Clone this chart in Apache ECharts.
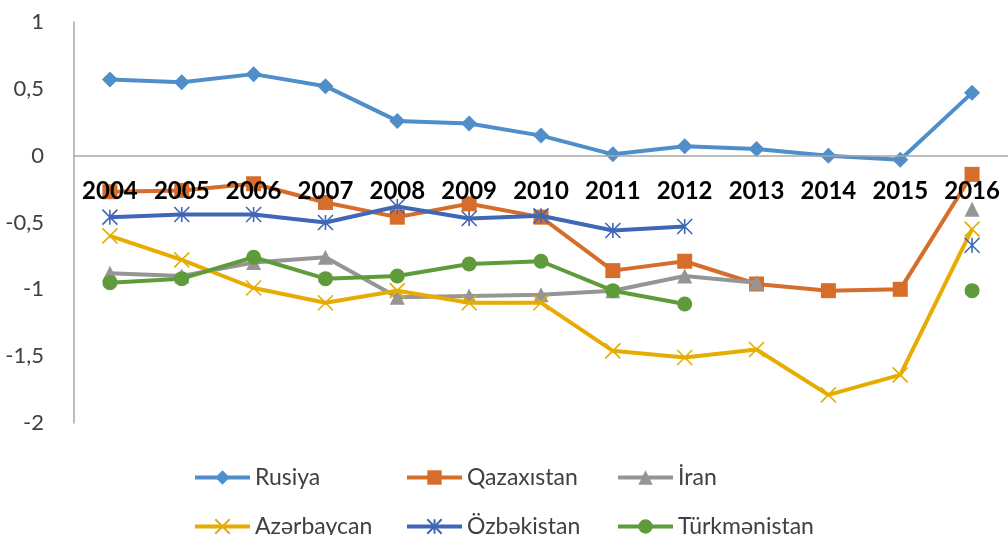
<!DOCTYPE html>
<html>
<head>
<meta charset="utf-8">
<script src="https://cdn.jsdelivr.net/npm/echarts@6/dist/echarts.min.js"></script>
<style>
  html, body { margin: 0; padding: 0; background: #fff; }
  #chart { width: 1008px; height: 535px; }
</style>
</head>
<body>
<div id="chart"></div>
<script>
var years = ['2004', '2005', '2006', '2007', '2008', '2009', '2010', '2011', '2012', '2013', '2014', '2015', '2016'];
var yTicks = [-2, -1.5, -1, -0.5, 0, 0.5, 1];

var rusiya       = [0.57, 0.55, 0.61, 0.52, 0.26, 0.24, 0.15, 0.01, 0.07, 0.05, 0.00, -0.03, 0.47];
var qazaxistan   = [-0.27, -0.26, -0.21, -0.35, -0.46, -0.36, -0.46, -0.86, -0.79, -0.96, -1.01, -1.00, -0.14];
var iran         = [-0.88, -0.90, -0.80, -0.76, -1.06, -1.05, -1.04, -1.01, -0.90, -0.95, null, null, -0.40];
var azerbaycan   = [-0.60, -0.78, -0.99, -1.10, -1.01, -1.10, -1.10, -1.46, -1.51, -1.45, -1.79, -1.64, -0.55];
var ozbekistan   = [-0.46, -0.44, -0.44, -0.50, -0.38, -0.47, -0.45, -0.56, -0.53, null, null, null, -0.67];
var turkmenistan = [-0.95, -0.92, -0.76, -0.92, -0.90, -0.81, -0.79, -1.01, -1.11, null, null, null, -1.01];

var names = ['Rusiya', 'Qazaxıstan', 'İran', 'Azərbaycan', 'Özbəkistan', 'Türkmənistan'];
var colors = ['#4f8ec9', '#d66d2a', '#959595', '#e6ac00', '#3f67b5', '#5f9b3b'];

var crossPath = 'path://M0,0L10,10M10,0L0,10';
var starPath = 'path://M0,0L10,10M10,0L0,10M5,0L5,10';

function lineSeries(i, data, symbol, size, hollow) {
    var s = {
        name: names[i],
        type: 'line',
        data: data,
        symbol: symbol,
        symbolSize: size,
        showSymbol: true,
        showAllSymbol: true,
        connectNulls: false,
        lineStyle: { color: colors[i], width: 4 },
        itemStyle: { color: colors[i] },
        z: 2 + i
    };
    if (hollow) {
        s.itemStyle = { color: 'rgba(0,0,0,0)', borderColor: colors[i], borderWidth: 1.6 };
    }
    return s;
}

// plot area: value 1 at y=22, value -2 at y=423
var plotTop = 22, plotBottom = 423;
var zeroY = plotTop + (plotBottom - plotTop) / 3;

var legendX = [193, 405, 616];
var legendY = [466, 515];
var legends = names.map(function (n, i) {
    return {
        data: [n],
        left: legendX[i % 3],
        top: legendY[Math.floor(i / 3)],
        padding: 0,
        itemWidth: 55,
        itemHeight: 18,
        itemGap: 4,
        lineStyle: { width: 'inherit' },
        textStyle: { fontFamily: 'Lato', fontSize: 23, color: '#404040' }
    };
});

var myChart = echarts.init(document.getElementById('chart'));

var option = {
    animation: false,
    color: colors,
    legend: legends,
    grid: { left: 74, right: 0, top: plotTop, bottom: 535 - plotBottom, containLabel: false },
    xAxis: {
        type: 'category',
        data: years,
        boundaryGap: true,
        z: 10,
        offset: -(plotBottom - zeroY),
        axisLine: { onZero: false, lineStyle: { color: '#a6a6a6', width: 1.5 } },
        axisTick: { show: false },
        axisLabel: {
            interval: 0,
            margin: 24,
            fontFamily: 'Lato',
            fontWeight: 'bold',
            fontSize: 24,
            color: '#000'
        },
        splitLine: { show: false }
    },
    yAxis: {
        type: 'value',
        min: yTicks[0],
        max: yTicks[yTicks.length - 1],
        interval: 0.5,
        axisLine: { show: true, lineStyle: { color: '#a6a6a6', width: 1.5 } },
        axisTick: { show: false },
        splitLine: { show: false },
        axisLabel: {
            margin: 30,
            fontFamily: 'Lato',
            fontSize: 22,
            color: '#404040',
            formatter: function (v) { return String(v).replace('.', ','); }
        }
    },
    series: [
        lineSeries(0, rusiya, 'diamond', 16),
        lineSeries(1, qazaxistan, 'rect', 15),
        lineSeries(2, iran, 'triangle', 15),
        lineSeries(3, azerbaycan, crossPath, 15, true),
        lineSeries(4, ozbekistan, starPath, 15, true),
        lineSeries(5, turkmenistan, 'circle', 15)
    ]
};

myChart.setOption(option);
</script>
</body>
</html>
